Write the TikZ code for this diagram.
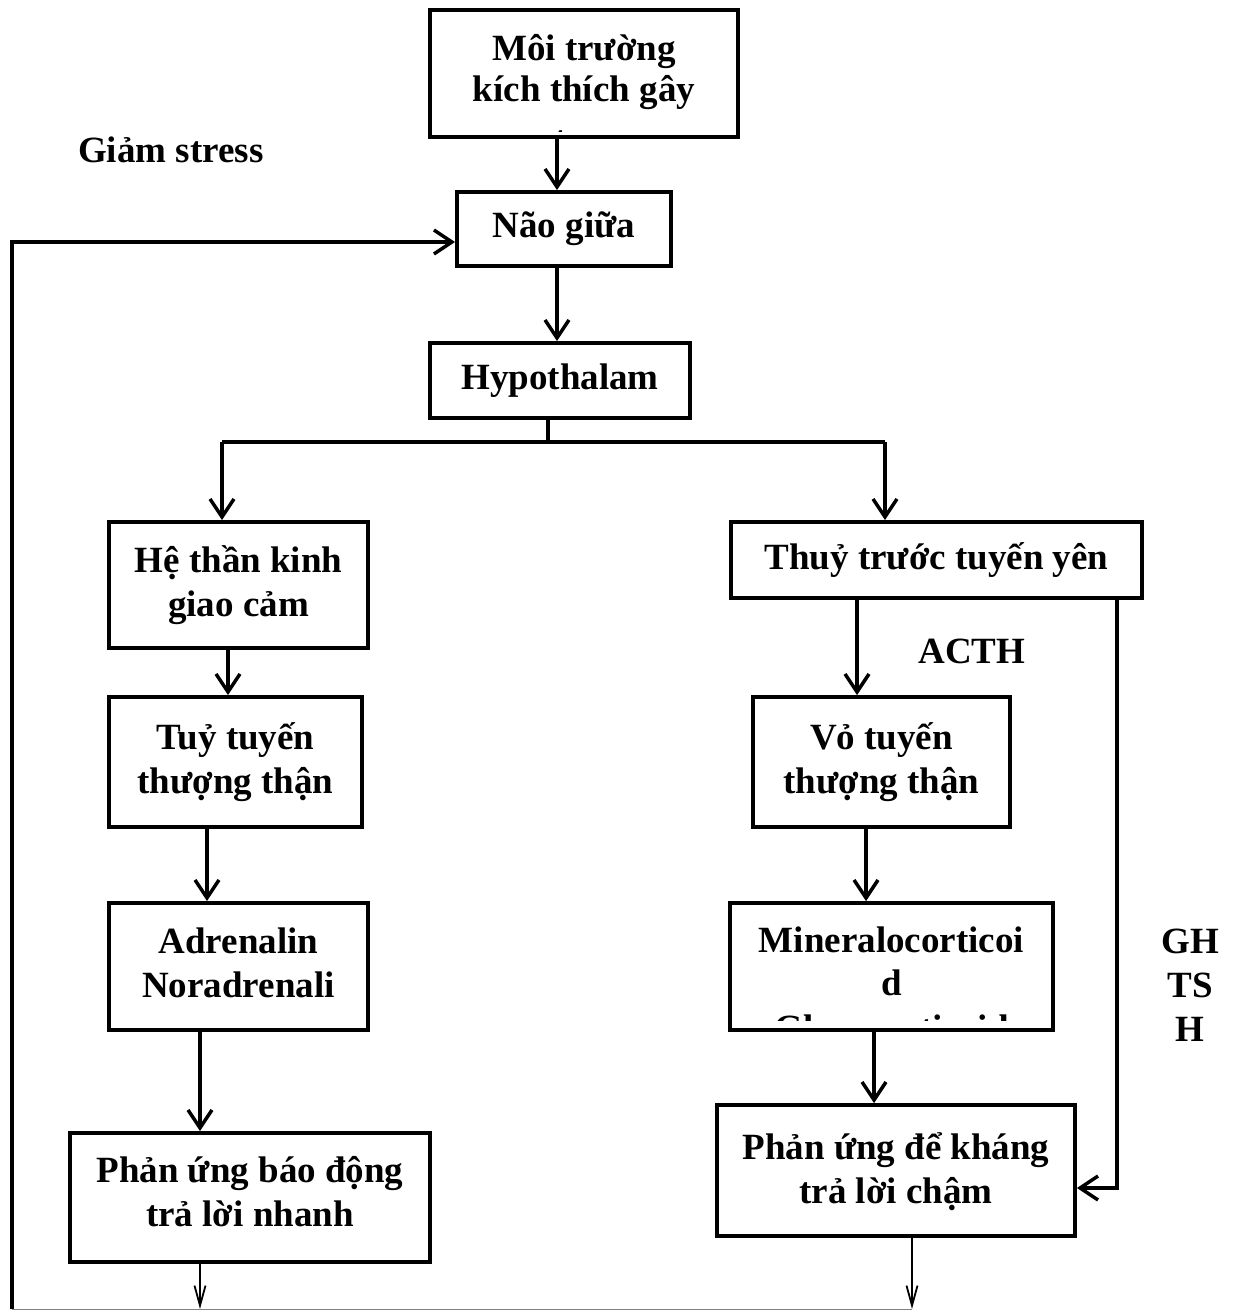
\documentclass[tikz,border=0pt]{standalone}
\usepackage{fontspec}
\setmainfont{Liberation Serif}
\usetikzlibrary{arrows.meta}
\begin{document}
\begin{tikzpicture}[x=1pt,y=-1pt,
  box/.style={draw, line width=3.8pt, inner sep=0pt, align=center,
    font=\bfseries\fontsize{37}{44}\selectfont},
  txt/.style={font=\bfseries\fontsize{37}{44}\selectfont, inner sep=0pt, align=center},
  ln/.style={line width=3.5pt},
  arr/.style={line width=3.5pt, -{Straight Barb[length=18pt,width=24pt,line width=3.5pt]}},
  arrthin/.style={line width=1.8pt, -{Straight Barb[length=20pt,width=11pt,line width=1.8pt]}}]
\useasboundingbox (0,0) rectangle (1233,1311);

% boxes
\node[box, minimum width=308pt, minimum height=127pt] (top) at (584,73.5) {};
\begin{scope}
  \clip (433,13) rectangle (735,132);
  \node[txt, anchor=base] (topl1) at (584,61) {Môi trường};
  \node[txt, anchor=base] (topl2) at (584,102) {kích thích gây};
  \node[txt, anchor=base] (topl3) at (584,151) {stress};
\end{scope}
\node[box, minimum width=214pt, minimum height=74pt] (nao) at (564,229) {Não giữa};
\node[box, minimum width=260pt, minimum height=75pt] (hypo) at (560,380.5) {Hypothalam};
\node[box, minimum width=259pt, minimum height=126pt] (he) at (238.5,585) {Hệ thần kinh\\giao cảm};
\node[box, minimum width=411pt, minimum height=76pt] (thuy) at (936.5,560) {Thuỷ trước tuyến yên};
\node[box, minimum width=253pt, minimum height=130pt] (tuy) at (235.5,762) {Tuỷ tuyến\\thượng thận};
\node[box, minimum width=259pt, minimum height=127pt, text depth=8pt] (adr) at (238.5,966.5) {Adrenalin\\Noradrenali};
\node[box, minimum width=360pt, minimum height=129pt, text depth=12pt] (pu1) at (250,1197.5) {Phản ứng báo động\\trả lời nhanh};
\node[box, minimum width=257pt, minimum height=130pt] (vo) at (881.5,762) {Vỏ tuyến\\thượng thận};
\node[box, minimum width=323pt, minimum height=127pt] (min) at (891.5,966.5) {};
\begin{scope}
  \clip (733,906) rectangle (1050,1020);
  \node[txt, anchor=base] (minl1) at (891.5,952) {Mineralocorticoi};
  \node[txt, anchor=base] (minl2) at (891.5,995) {d};
  \node[txt, anchor=base] (minl3) at (891.5,1040) {Glucocorticoid};
\end{scope}
\node[box, minimum width=358pt, minimum height=131pt, text depth=4pt] (pu2) at (896,1170.5) {Phản ứng để kháng\\trả lời chậm};

% labels
\node[txt, anchor=west] (giam) at (78,150) {Giảm stress};
\node[txt] (acth) at (972,651) {ACTH};
\node[txt] (gh) at (1190,985) {GH\\TS\\H};

% helper coordinates
\coordinate (c1) at (557,0);
\coordinate (br) at (548,442);
\coordinate (bL) at (222,442);
\coordinate (bR) at (885,442);
\coordinate (cl1) at (228,0);
\coordinate (cl2) at (207,0);
\coordinate (cl3) at (200,0);
\coordinate (cr1) at (857,0);
\coordinate (cr2) at (866,0);
\coordinate (cr3) at (874,0);
\coordinate (cr4) at (912,0);
\coordinate (gr) at (1117,1188);
\coordinate (fbB) at (12,1309);
\coordinate (fbT) at (12,242);
\coordinate (botL) at (200,1309);
\coordinate (botR) at (912,1309);

% connectors
\draw[arr] (top.south -| c1) -- (nao.north -| c1);
\draw[arr] (nao.south -| c1) -- (hypo.north -| c1);
\draw[ln] (hypo.south -| br) -- (br);
\draw[ln] (bL) -- (bR);
\draw[arr] (bL) -- (he.north -| bL);
\draw[arr] (bR) -- (thuy.north -| bR);
\draw[arr] (he.south -| cl1) -- (tuy.north -| cl1);
\draw[arr] (tuy.south -| cl2) -- (adr.north -| cl2);
\draw[arr] (adr.south -| cl3) -- (pu1.north -| cl3);
\draw[arrthin] (pu1.south -| cl3) -- (botL);
\draw[arr] (thuy.south -| cr1) -- (vo.north -| cr1);
\draw[arr] (vo.south -| cr2) -- (min.north -| cr2);
\draw[arr] (min.south -| cr3) -- (pu2.north -| cr3);
\draw[arrthin] (pu2.south -| cr4) -- (botR);
\draw[arr] (thuy.south -| gr) -- (gr) -- (pu2.east |- gr);
\draw[arr] (fbB) -- (fbT) -- (nao.west |- fbT);
\draw[line width=1pt, gray] (fbB) -- (botR);
\end{tikzpicture}
\end{document}
